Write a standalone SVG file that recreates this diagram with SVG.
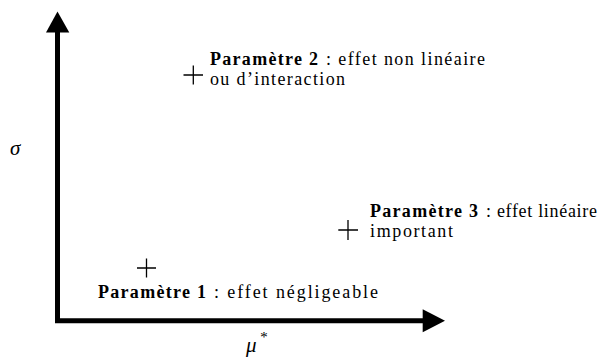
<svg xmlns="http://www.w3.org/2000/svg" width="610" height="360" viewBox="0 0 610 360">
<style>
text{font-family:"Liberation Serif","Times New Roman",serif;font-size:18px;fill:#000}
.b{font-weight:bold}
.axis{stroke:#000;stroke-width:5;fill:none}
.head{fill:#000;stroke:none}
.cross{stroke:#000;stroke-width:1.3;fill:none}
.sym{font-style:italic;font-size:21px}
</style>
<g id="axes">
<path class="axis" d="M57.5,32 V320.8 H423"/>
<polygon class="head" points="57.5,11.5 46,32.5 69.3,32.5"/>
<polygon class="head" points="445,320.8 422.7,309.3 422.7,332.3"/>
</g>
<g id="label-sigma"><text class="sym" x="10" y="155">σ</text></g>
<g id="label-mu"><text class="sym" x="246" y="352">μ<tspan dx="3" dy="-10" font-size="15">*</tspan></text></g>
<g id="p1">
<path class="cross" d="M137,268 H156 M146.5,258.5 V277.5"/>
<text class="b" x="98" y="298" textLength="108" lengthAdjust="spacing">Paramètre 1</text>
<text x="214" y="298" textLength="164" lengthAdjust="spacing">: effet négligeable</text>
</g>
<g id="p2">
<path class="cross" d="M183.5,75 H203 M193.3,65.5 V84.5"/>
<text class="b" x="210" y="65" textLength="108" lengthAdjust="spacing">Paramètre 2</text>
<text x="326" y="65" textLength="159" lengthAdjust="spacing">: effet non linéaire</text>
<text x="210" y="85" textLength="135" lengthAdjust="spacing">ou d’interaction</text>
</g>
<g id="p3">
<path class="cross" d="M338.3,230 H358 M348,220 V240"/>
<text class="b" x="370" y="217" textLength="108" lengthAdjust="spacing">Paramètre 3</text>
<text x="486" y="217" textLength="111" lengthAdjust="spacing">: effet linéaire</text>
<text x="370" y="237" textLength="83" lengthAdjust="spacing">important</text>
</g>
</svg>
